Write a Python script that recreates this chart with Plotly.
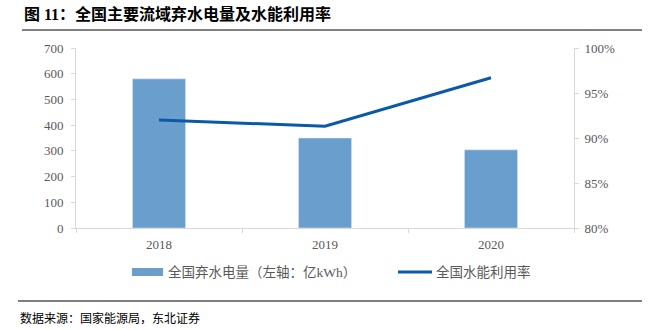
import plotly.graph_objects as go

years = ["2018", "2019", "2020"]
curtailed = [580, 350, 304]          # 亿kWh
utilization = [0.920, 0.913, 0.967]  # 水能利用率

left_ticks = [0, 100, 200, 300, 400, 500, 600, 700]
right_ticks = [0.80, 0.85, 0.90, 0.95, 1.00]
right_labels = ["80%", "85%", "90%", "95%", "100%"]

title_text = "图 11：全国主要流域弃水电量及水能利用率"
source_text = "数据来源：国家能源局，东北证券"
bar_name = "全国弃水电量（左轴：亿kWh）"
line_name = "全国水能利用率"

BAR_C = "#6a9fcd"
LINE_C = "#0b5aa8"
FONT = "Liberation Serif, Noto Sans CJK SC, serif"

W, H = 648, 330
L, R, T, B = 76, 574, 48, 228
pw, ph = R - L, B - T


def px(x):
    return (x - L) / pw


def py(y):
    return (B - y) / ph


fig = go.Figure()
fig.add_trace(go.Bar(x=years, y=curtailed, name=bar_name, marker_color=BAR_C,
                     width=0.32, yaxis="y", showlegend=False))
fig.add_trace(go.Scatter(x=years, y=utilization, name=line_name, mode="lines",
                         line=dict(color=LINE_C, width=3), yaxis="y2", showlegend=False))

fig.update_layout(
    width=W, height=H,
    margin=dict(l=L, r=W - R, t=T, b=H - B),
    plot_bgcolor="white", paper_bgcolor="white",
    font=dict(family=FONT, size=13, color="#595959"),
    xaxis=dict(type="category", showline=True, linecolor="#d9d9d9", linewidth=1,
               ticks="outside", tickcolor="#d9d9d9", ticklen=4, tickson="boundaries",
               ticklabelstandoff=4,
               showgrid=False, tickfont=dict(size=13, color="#595959")),
    yaxis=dict(range=[0, 700], tickvals=left_ticks, showgrid=False, zeroline=False,
               showline=True, linecolor="#d9d9d9", ticks="outside", tickcolor="#d9d9d9",
               ticklen=4, ticklabelstandoff=5, tickfont=dict(size=13, color="#595959")),
    yaxis2=dict(range=[0.80, 1.00], tickvals=right_ticks, ticktext=right_labels,
                overlaying="y", side="right", showgrid=False, zeroline=False,
                showline=True, linecolor="#d9d9d9", ticks="outside", tickcolor="#d9d9d9",
                ticklen=4, ticklabelstandoff=3, tickfont=dict(size=13, color="#595959")),
    showlegend=False,
)

shapes = []
annotations = []
# title and rules
annotations.append(dict(text="<b>" + title_text + "</b>", xref="paper", yref="paper",
                        x=px(22), y=py(14), xanchor="left", yanchor="middle", showarrow=False,
                        font=dict(family=FONT, size=16, color="#000000")))
shapes.append(dict(type="line", xref="paper", yref="paper", x0=px(22), x1=px(642),
                   y0=py(30), y1=py(30), line=dict(color="#555555", width=1.5)))
shapes.append(dict(type="line", xref="paper", yref="paper", x0=px(18), x1=px(642),
                   y0=py(301), y1=py(301), line=dict(color="#555555", width=1.5)))
annotations.append(dict(text=source_text, xref="paper", yref="paper",
                        x=px(18), y=py(318), xanchor="left", yanchor="middle", showarrow=False,
                        font=dict(family=FONT, size=12, color="#000000")))
# legend
shapes.append(dict(type="rect", xref="paper", yref="paper", x0=px(132), x1=px(163),
                   y0=py(268), y1=py(276), fillcolor=BAR_C, line=dict(width=0)))
annotations.append(dict(text=bar_name, xref="paper", yref="paper", x=px(166), y=py(272),
                        xanchor="left", yanchor="middle", showarrow=False,
                        font=dict(family=FONT, size=13.5, color="#595959")))
shapes.append(dict(type="line", xref="paper", yref="paper", x0=px(398), x1=px(432),
                   y0=py(272), y1=py(272), line=dict(color=LINE_C, width=3)))
annotations.append(dict(text=line_name, xref="paper", yref="paper", x=px(434), y=py(272),
                        xanchor="left", yanchor="middle", showarrow=False,
                        font=dict(family=FONT, size=13.5, color="#595959")))

fig.update_layout(shapes=shapes, annotations=annotations)
fig.write_html("out.html")
